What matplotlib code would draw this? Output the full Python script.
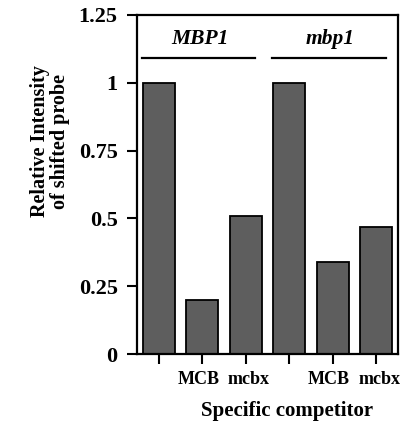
import matplotlib
matplotlib.use('Agg')
import matplotlib.pyplot as plt
from matplotlib.transforms import ScaledTranslation

# relative intensity of the shifted probe for each competitor
intensity = [1.0, 0.20, 0.51, 1.0, 0.34, 0.47]
tick_labels = ['', 'MCB', 'mcbx', '', 'MCB', 'mcbx']
groups = ['MBP1', 'mbp1']
y_ticks = [0, 0.25, 0.5, 0.75, 1, 1.25]
y_tick_labels = ['0', '0.25', '0.5', '0.75', '1', '1.25']

plt.rcParams['font.family'] = ['Liberation Serif', 'DejaVu Serif']
plt.rcParams['font.weight'] = 'bold'

fig = plt.figure(figsize=(4.02, 4.26), dpi=100)
ax = fig.add_axes([0.341, 0.169, 0.649, 0.796])

positions = list(range(len(intensity)))
ax.bar(positions, intensity, width=0.74, color='#5e5e5e', edgecolor='black', linewidth=1.3)

ax.set_xlim(-0.5, len(intensity) - 0.5)
ax.set_ylim(0, 1.25)
ax.set_yticks(y_ticks)
ax.set_yticklabels(y_tick_labels, fontsize=16, fontweight='bold')
ax.set_xticks(positions)
ax.set_xticklabels(tick_labels, fontsize=13, fontweight='bold')
ax.tick_params(axis='both', direction='out', length=7, width=1.5, colors='black')
ax.tick_params(axis='y', pad=7)
ax.tick_params(axis='x', pad=5)
for s in ax.spines.values():
    s.set_linewidth(1.6)

# nudge the competitor labels apart a little, as in the original
for lab in ax.get_xticklabels():
    shift = {'MCB': -4, 'mcbx': 3}.get(lab.get_text(), 0)
    lab.set_transform(lab.get_transform() + ScaledTranslation(shift / 100, 0, fig.dpi_scale_trans))

# group headers with underline
n = len(intensity) // len(groups)
for i, name in enumerate(groups):
    start = i * n
    end = start + n - 1
    ax.plot([start - 0.39, end + 0.22], [1.09, 1.09], color='black', lw=1.6, clip_on=False)
    ax.text((start + end) / 2 - 0.06, 1.16, name, ha='center', va='center',
            fontsize=15.5, fontweight='bold', style='italic')

ax.set_xlabel('Specific competitor', fontsize=15, fontweight='bold')
ax.xaxis.set_label_coords(0.575, -0.14)
ax.set_ylabel('Relative Intensity\nof shifted probe', fontsize=14.5, fontweight='bold', linespacing=1.0)
ax.yaxis.set_label_coords(-0.258, 0.628)

fig.savefig('out.png', dpi=100)
